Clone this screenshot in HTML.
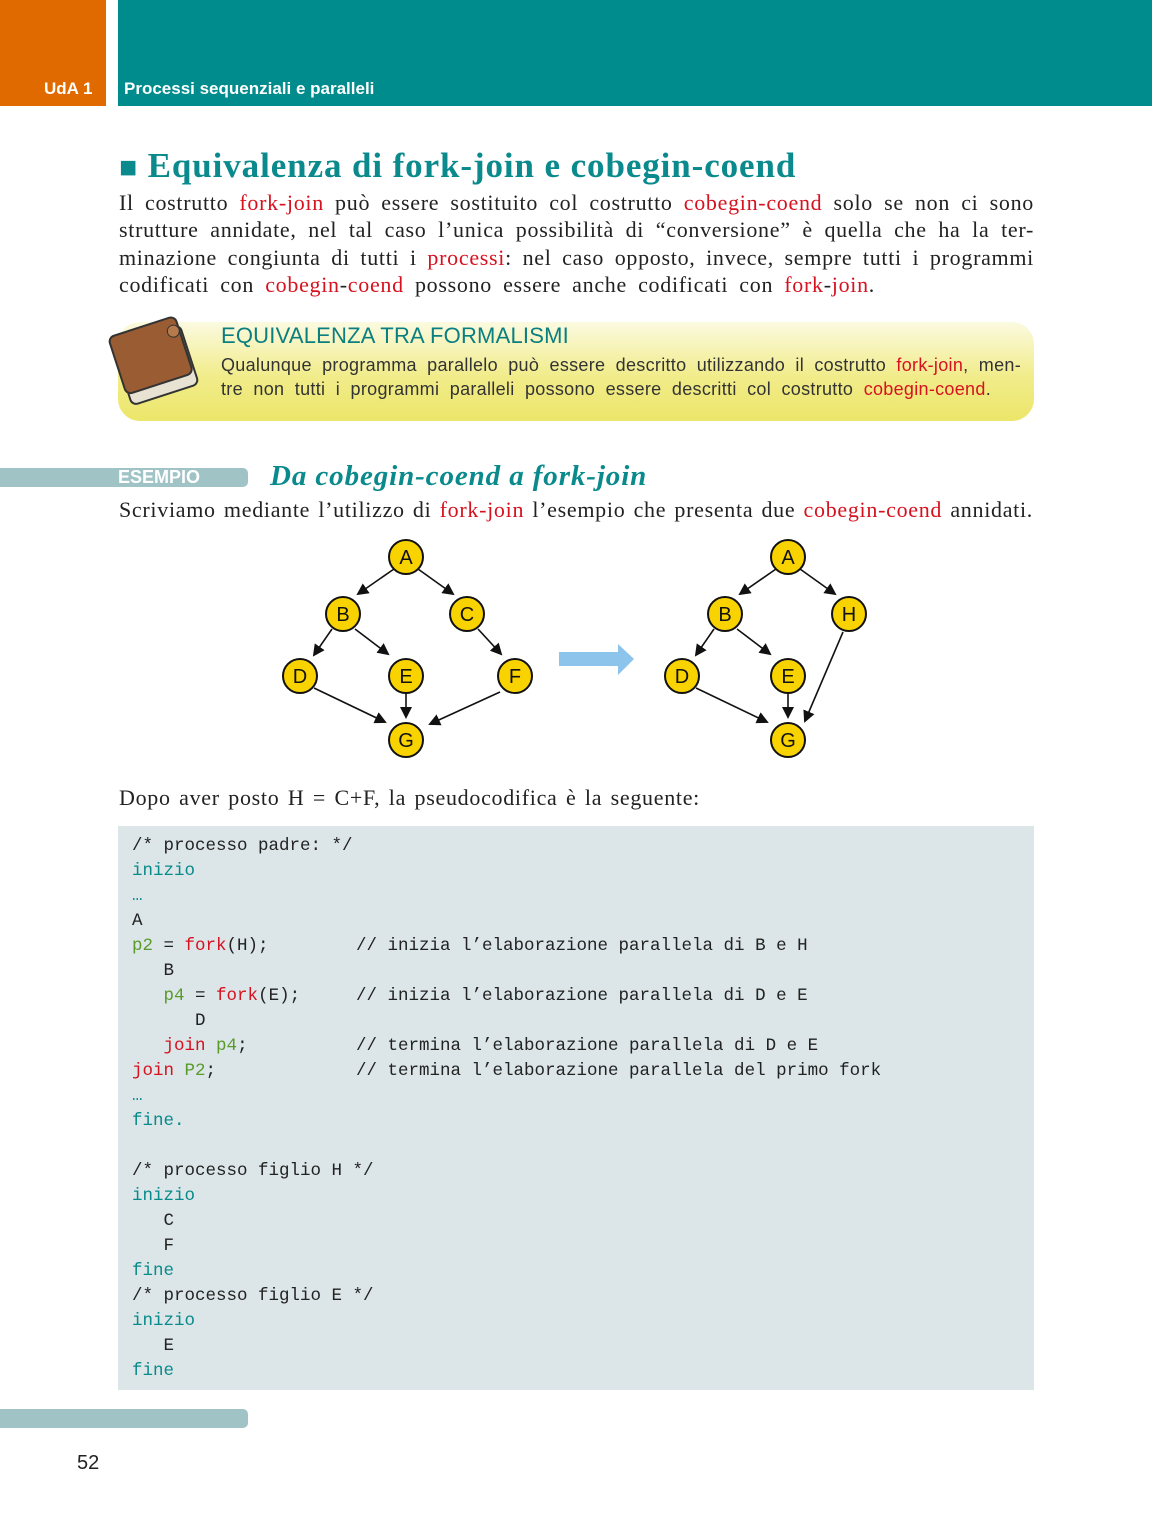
<!DOCTYPE html>
<html><head><meta charset="utf-8"><style>
body{margin:0;width:1152px;height:1535px;background:#fff;position:relative;overflow:hidden;font-family:"Liberation Serif",serif;color:#222}
.a{position:absolute}
.r{color:#d6121f}
.j{position:absolute;text-align:justify;text-align-last:justify;white-space:nowrap;font-size:22px;letter-spacing:0.7px}
.code{font-family:"Liberation Mono",monospace;font-size:17.5px;white-space:pre;color:#222}
.k{color:#078a8a}.g{color:#5a9a2a}.f{color:#d6121f}
.cl{position:absolute;left:221px;font:18px 'Liberation Sans',sans-serif;color:#333;text-align:justify;text-align-last:justify;white-space:nowrap;letter-spacing:0.3px}
</style></head><body>
<div class="a" style="left:0;top:0;width:106px;height:106px;background:#e16a00"></div>
<div class="a" style="left:118px;top:0;width:1034px;height:106px;background:#008b8d"></div>
<div class="a" style="left:44px;top:79px;color:#fff;font:bold 17px 'Liberation Sans',sans-serif">UdA 1</div>
<div class="a" style="left:124px;top:79px;color:#fff;font:bold 17px 'Liberation Sans',sans-serif">Processi sequenziali e paralleli</div>

<div class="a" style="left:119px;top:146px;color:#0a8a8c;font:bold 35px 'Liberation Serif',serif;letter-spacing:0.9px"><span style="font-size:30px">■</span> Equivalenza di fork-join e cobegin-coend</div>
<div class="j" style="left:119px;top:190px;width:915px">Il costrutto <span class="r">fork-join</span> può essere sostituito col costrutto <span class="r">cobegin-coend</span> solo se non ci sono</div>
<div class="j" style="left:119px;top:217px;width:915px">strutture annidate, nel tal caso l’unica possibilità di “conversione” è quella che ha la ter-</div>
<div class="j" style="left:119px;top:245px;width:915px">minazione congiunta di tutti i <span class="r">processi</span>: nel caso opposto, invece, sempre tutti i programmi</div>
<div class="j" style="left:119px;top:272px;width:756px">codificati con <span class="r">cobegin</span>-<span class="r">coend</span> possono essere anche codificati con <span class="r">fork</span>-<span class="r">join</span>.</div>

<div class="a" style="left:118px;top:322px;width:916px;height:99px;border-radius:22px;background:linear-gradient(#fbfae0 0%,#f1ec8a 55%,#ece66a 100%)"></div>
<svg class="a" style="left:106px;top:312px" width="100" height="96"><g transform="rotate(-18 50 50)"><rect x="14" y="22" width="70" height="62" rx="6" fill="#e8e2d2" stroke="#333" stroke-width="2"/><rect x="12" y="12" width="70" height="60" rx="6" fill="#9a5c32" stroke="#333" stroke-width="2"/><circle cx="76" cy="26" r="6" fill="#b77a4c" stroke="#333"/></g></svg>
<div class="a" style="left:221px;top:323px;color:#0a7f80;font:22px 'Liberation Sans',sans-serif;letter-spacing:0.2px">EQUIVALENZA TRA FORMALISMI</div>
<div class="cl" style="top:355px;width:800px">Qualunque programma parallelo può essere descritto utilizzando il costrutto <span class="r">fork-join</span>, men-</div>
<div class="cl" style="top:379px;width:770px">tre non tutti i programmi paralleli possono essere descritti col costrutto <span class="r">cobegin-coend</span>.</div>

<div class="a" style="left:0;top:468px;width:248px;height:19px;background:#a0c4c6;border-radius:0 5px 5px 0"></div>
<div class="a" style="left:118px;top:467px;color:#fff;font:bold 18px 'Liberation Sans',sans-serif">ESEMPIO</div>
<div class="a" style="left:270px;top:460px;color:#0a8a8c;font:italic bold 29px 'Liberation Serif',serif;letter-spacing:0.9px">Da cobegin-coend a fork-join</div>
<div class="j" style="left:119px;top:497px;width:914px">Scriviamo mediante l’utilizzo di <span class="r">fork-join</span> l’esempio che presenta due <span class="r">cobegin-coend</span> annidati.</div>

<svg class="a" style="left:0;top:0" width="1152" height="800">
<defs><marker id="m" markerWidth="12" markerHeight="12" refX="10" refY="6" orient="auto" markerUnits="userSpaceOnUse"><path d="M0,0 L12,6 L0,12z" fill="#111"/></marker></defs>
<g stroke="#111" stroke-width="1.6" marker-end="url(#m)">
<line x1="394" y1="569" x2="358" y2="594"/><line x1="418" y1="569" x2="453" y2="594"/>
<line x1="332" y1="629" x2="314" y2="655"/><line x1="355" y1="629" x2="388" y2="654"/>
<line x1="478" y1="629" x2="501" y2="654"/>
<line x1="406" y1="693" x2="406" y2="717"/><line x1="314" y1="688" x2="385" y2="722"/><line x1="500" y1="692" x2="430" y2="724"/>
<line x1="776" y1="569" x2="740" y2="594"/><line x1="800" y1="569" x2="835" y2="594"/>
<line x1="714" y1="629" x2="696" y2="655"/><line x1="737" y1="629" x2="770" y2="654"/>
<line x1="788" y1="693" x2="788" y2="717"/><line x1="696" y1="688" x2="767" y2="722"/><line x1="843" y1="632" x2="805" y2="721"/>
</g>
<path d="M559,652 L618,652 L618,644 L634,659 L618,675 L618,666 L559,666z" fill="#8cc4ec"/>
<g fill="#f9d300" stroke="#111" stroke-width="2">
<circle cx="406" cy="557" r="17"/><circle cx="343" cy="614" r="17"/><circle cx="467" cy="614" r="17"/><circle cx="300" cy="676" r="17"/><circle cx="406" cy="676" r="17"/><circle cx="515" cy="676" r="17"/><circle cx="406" cy="740" r="17"/>
<circle cx="788" cy="557" r="17"/><circle cx="725" cy="614" r="17"/><circle cx="849" cy="614" r="17"/><circle cx="682" cy="676" r="17"/><circle cx="788" cy="676" r="17"/><circle cx="788" cy="740" r="17"/>
</g>
<g font-family="Liberation Sans,sans-serif" font-size="20" text-anchor="middle" fill="#111">
<text x="406" y="564">A</text><text x="343" y="621">B</text><text x="467" y="621">C</text><text x="300" y="683">D</text><text x="406" y="683">E</text><text x="515" y="683">F</text><text x="406" y="747">G</text>
<text x="788" y="564">A</text><text x="725" y="621">B</text><text x="849" y="621">H</text><text x="682" y="683">D</text><text x="788" y="683">E</text><text x="788" y="747">G</text>
</g></svg>

<div class="j" style="left:119px;top:785px;width:581px">Dopo aver posto H = C+F, la pseudocodifica è la seguente:</div>

<div class="a" style="left:118px;top:826px;width:916px;height:564px;background:#dce6e8"></div>
<div class="a code" style="left:132px;top:834px;line-height:25px">/* processo padre: */
<span class="k">inizio</span>
<span class="k">…</span>
A
<span class="g">p2</span> = <span class="f">fork</span>(H);
   B
   <span class="g">p4</span> = <span class="f">fork</span>(E);
      D
   <span class="f">join</span> <span class="g">p4</span>;
<span class="f">join</span> <span class="g">P2</span>;
<span class="k">…</span>
<span class="k">fine.</span>

/* processo figlio H */
<span class="k">inizio</span>
   C
   F
<span class="k">fine</span>
/* processo figlio E */
<span class="k">inizio</span>
   E
<span class="k">fine</span></div>
<div class="a code" style="left:356px;top:934px;line-height:25px">// inizia l’elaborazione parallela di B e H

// inizia l’elaborazione parallela di D e E

// termina l’elaborazione parallela di D e E
// termina l’elaborazione parallela del primo fork</div>

<div class="a" style="left:0;top:1409px;width:248px;height:19px;background:#a0c4c6;border-radius:0 5px 5px 0"></div>
<div class="a" style="left:77px;top:1452px;font:20px 'Liberation Sans',sans-serif;color:#222">52</div>
</body></html>
